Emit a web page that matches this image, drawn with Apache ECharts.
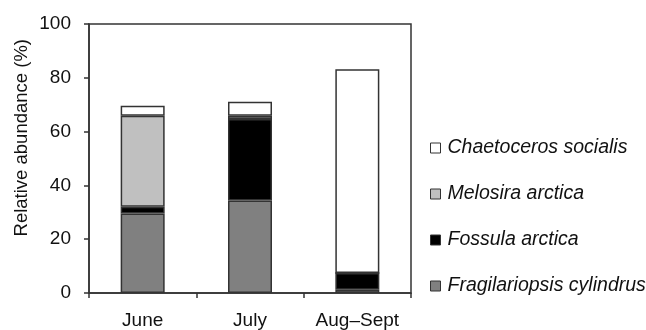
<!DOCTYPE html>
<html>
<head>
<meta charset="utf-8">
<script src="https://cdn.jsdelivr.net/npm/echarts@6/dist/echarts.min.js"></script>
<style>html,body{margin:0;padding:0;background:#fff}#c{width:646px;height:330px}</style>
</head>
<body>
<div id="c"></div>
<script>
var categories = ['June', 'July', 'Aug\u2013Sept'];
var fragilariopsis = [29.6, 34.4, 1.2];
var fossula = [2.5, 30.3, 6.2];
var melosira = [33.8, 1.2, 0];
var chaetoceros = [3.7, 5.2, 75.8];
var yTicks = [0, 20, 40, 60, 80, 100];
var legendOrder = ['Chaetoceros socialis', 'Melosira arctica', 'Fossula arctica', 'Fragilariopsis cylindrus'];

var FONT = '"Liberation Sans", Arial, sans-serif';
var chart = echarts.init(document.getElementById('c'));
function mk(name, data, color) {
  return {
    name: name, type: 'bar', stack: 'a', data: data, barWidth: 44,
    itemStyle: { color: color, borderColor: '#333', borderWidth: 1.5 },
    emphasis: { disabled: true }
  };
}
chart.setOption({
  animation: false,
  grid: { left: 89, right: 235, top: 24, bottom: 36, show: true, borderColor: '#333', borderWidth: 1.5, containLabel: false },
  legend: {
    orient: 'vertical', left: 425, top: 133, itemGap: 26,
    itemWidth: 10, itemHeight: 10, icon: 'rect',
    data: legendOrder,
    itemStyle: { borderColor: '#333', borderWidth: 1 },
    textStyle: { fontFamily: FONT, fontSize: 19.5, fontStyle: 'italic', color: '#111', padding: [0, 0, 0, 2], lineHeight: 19 }
  },
  graphic: [{
    type: 'text', left: 12, top: 39,
    rotation: Math.PI / 2,
    style: { text: 'Relative abundance (%)', fontFamily: FONT, fontSize: 18.5, fill: '#111' }
  }],
  xAxis: {
    type: 'category', data: categories,
    axisLine: { lineStyle: { color: '#333', width: 1.5 } },
    axisTick: { show: true, length: 5, lineStyle: { color: '#333', width: 1.5 } },
    axisLabel: { fontFamily: FONT, fontSize: 19, color: '#111', margin: 18, interval: 0 }
  },
  yAxis: {
    type: 'value', min: 0, max: 100, interval: 20,
    axisLine: { show: true, lineStyle: { color: '#333', width: 1.5 } },
    axisTick: { show: true, length: 5, lineStyle: { color: '#333', width: 1.5 } },
    splitLine: { show: false },
    axisLabel: { fontFamily: FONT, fontSize: 19, color: '#111', margin: 18,
      formatter: function (v) { return yTicks.indexOf(v) >= 0 ? String(v) : ''; } }
  },
  series: [
    mk('Fragilariopsis cylindrus', fragilariopsis, '#808080'),
    mk('Fossula arctica', fossula, '#000000'),
    mk('Melosira arctica', melosira, '#c0c0c0'),
    mk('Chaetoceros socialis', chaetoceros, '#ffffff')
  ]
});
</script>
</body>
</html>
